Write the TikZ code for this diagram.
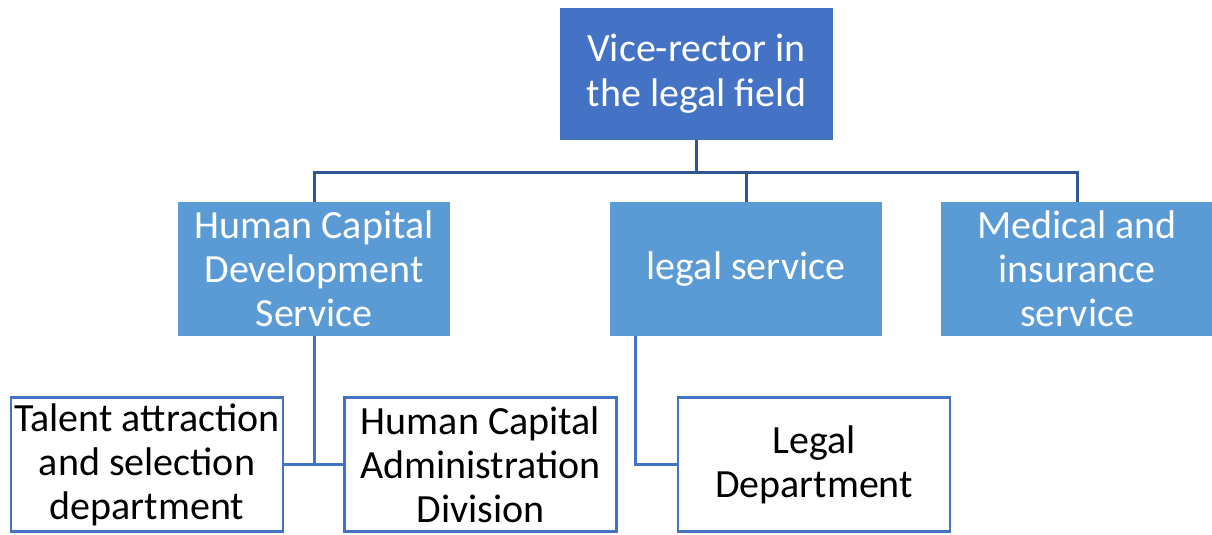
\documentclass[tikz,border=0pt]{standalone}
\usepackage{fontspec}
\setmainfont{Carlito}
\usetikzlibrary{positioning}
\definecolor{headblue}{HTML}{4472C4}
\definecolor{serviceblue}{HTML}{5B9BD5}
\definecolor{linkblue}{HTML}{2F5597}
\tikzstyle{head} = [rectangle, 
minimum width=273pt, 
minimum height=132pt, 
inner sep=0pt,
align=center, 
fill=headblue, 
text=white,
font=\fontsize{40}{45}\selectfont]
\tikzstyle{service} = [rectangle, 
minimum width=272pt, 
minimum height=134pt, 
inner sep=0pt,
align=center, 
fill=serviceblue, 
text=white,
font=\fontsize{40}{44}\selectfont]
\tikzstyle{dept} = [rectangle, 
minimum width=272pt, 
minimum height=134pt, 
inner sep=0pt,
align=center, 
draw=headblue, 
line width=2.5pt,
fill=white,
font=\fontsize{40}{44}\selectfont]
\tikzstyle{link} = [line width=3pt, draw=linkblue]
\tikzstyle{sublink} = [line width=3pt, draw=headblue]

\begin{document}
\begin{tikzpicture}[x=1pt, y=-1pt]
\useasboundingbox (0,0) rectangle (1212,535);

\node (vr) [head] at (696.5,74) {Vice-rector in\\the legal field};

\node (hcds) [service] at (314,269) {Human Capital\\Development\\Service};
\node (ls) [service] at (746,269) {legal service};
\node (med) [service] at (1077,269) {Medical and\\insurance\\service};

\node (tal) [dept] at (147,464.5) {Talent attraction\\and selection\\department};
\node (hcad) [dept] at (480.5,464.5) {Human Capital\\Administration\\Division};
\node (legd) [dept] at (814,464.5) {Legal\\Department};

\coordinate (bus) at (0,172);
\draw [link] (vr.south) -- (vr.south |- bus);
\draw [link] (hcds.north) |- (bus -| med.north) -- (med.north);
\draw [link] (ls.north) -- (ls.north |- bus);

\draw [sublink] (hcds.south) -- (hcds.south |- tal.east);
\draw [sublink] (tal.east) -- (hcad.west);
\draw [sublink] ([xshift=26pt]ls.south west) |- (legd.west);

\end{tikzpicture}
\end{document}
